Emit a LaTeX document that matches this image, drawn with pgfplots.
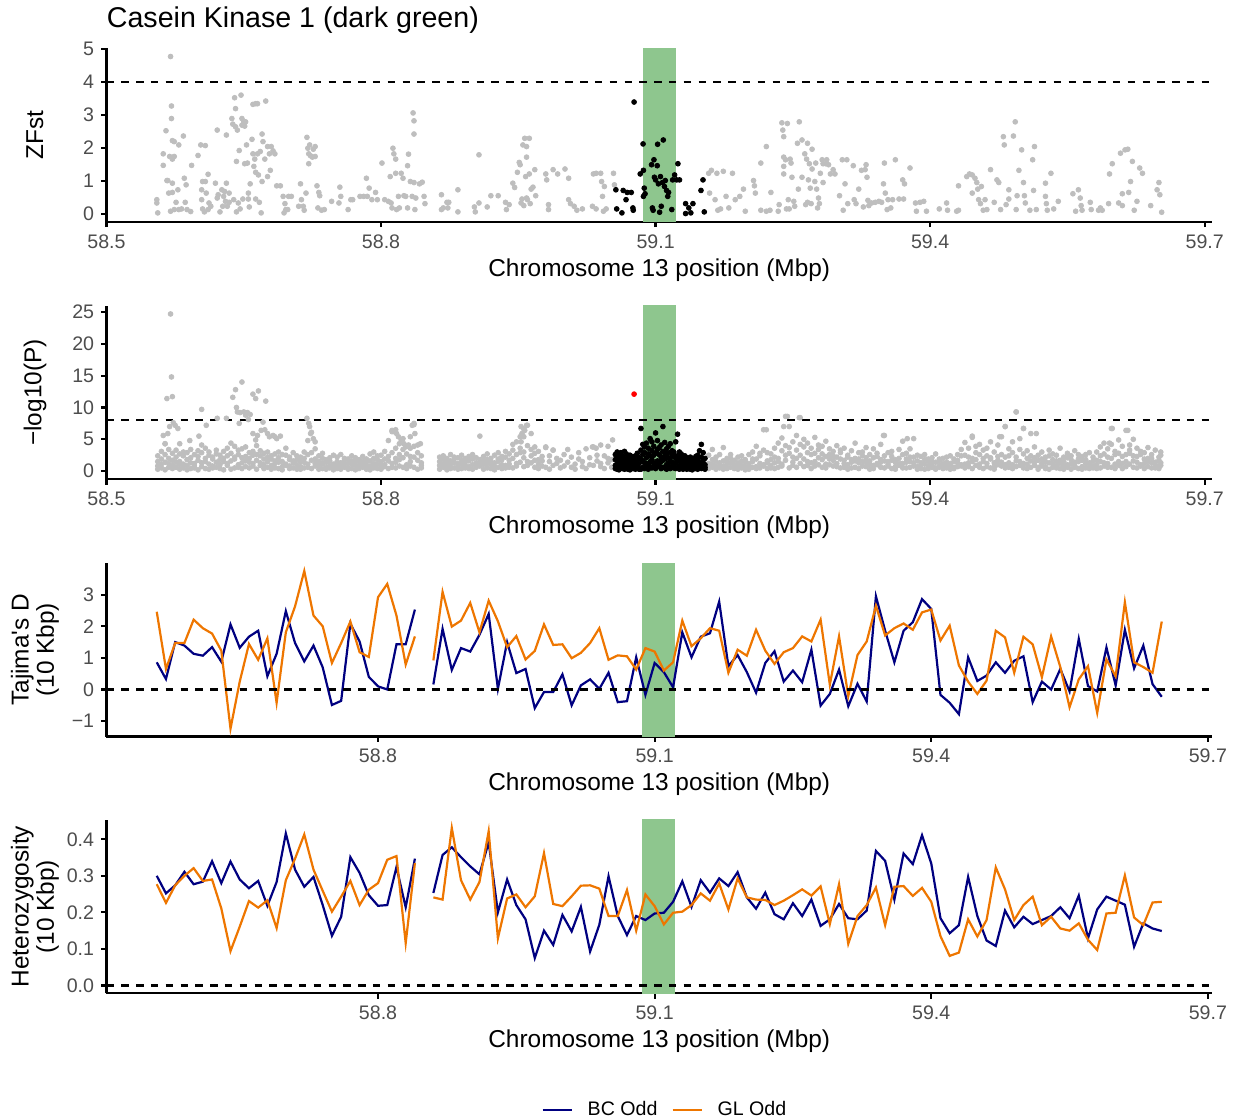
\documentclass[border=0pt]{standalone}
\usepackage{pgfplots}
\pgfplotsset{compat=1.18}
\usepackage{pgfplotstable}
\usepackage{fontspec}
\setmainfont{Liberation Sans}

\definecolor{tickgray}{HTML}{4D4D4D}
\definecolor{ptgray}{HTML}{BEBEBE}
\definecolor{bcnavy}{HTML}{000080}
\definecolor{glorange}{HTML}{EE7600}
\definecolor{ckgreen}{HTML}{8EC68E}

% ZFst per SNP, outside the candidate window
\pgfplotstableread{
x y
58.555 0.43
58.555 0.33
58.556 0.03
58.562 1.47
58.562 1.82
58.565 2.52
58.566 1.01
58.567 1.01
58.568 0.63
58.569 1.74
58.570 0.08
58.570 4.77
58.571 3.27
58.571 2.89
58.572 2.22
58.572 1.66
58.572 0.65
58.572 0.93
58.574 2.19
58.574 1.74
58.574 0.13
58.576 0.35
58.578 0.73
58.579 2.09
58.579 0.13
58.582 0.15
58.584 2.36
58.585 1.08
58.586 0.35
58.587 0.88
58.588 0.13
58.592 0.07
58.593 1.47
58.600 1.77
58.603 2.09
58.604 0.73
58.604 0.43
58.605 0.15
58.605 0.98
58.607 0.06
58.608 2.07
58.608 0.98
58.609 0.63
58.611 0.13
58.611 1.20
58.612 0.33
58.614 0.23
58.619 0.93
58.621 2.54
58.621 0.48
58.622 0.58
58.624 0.06
58.626 0.73
58.627 0.23
58.628 0.53
58.629 0.68
58.630 0.38
58.631 2.39
58.631 0.93
58.632 0.23
58.634 0.63
58.634 0.35
58.637 2.89
58.638 2.72
58.639 0.43
58.640 3.52
58.641 3.19
58.641 2.64
58.642 1.59
58.642 0.06
58.643 2.54
58.644 0.33
58.645 1.92
58.646 0.15
58.647 3.60
58.648 2.89
58.648 2.69
58.649 0.45
58.650 2.79
58.651 1.52
58.651 2.66
58.652 2.79
58.653 2.09
58.654 1.54
58.655 0.63
58.655 0.45
58.656 0.21
58.657 0.91
58.659 2.26
58.660 1.82
58.660 3.32
58.661 1.44
58.662 1.66
58.663 3.34
58.663 0.45
58.663 1.26
58.665 3.34
58.665 1.82
58.666 1.18
58.667 0.35
58.668 1.89
58.669 0.03
58.670 0.98
58.670 2.42
58.671 2.19
58.673 1.66
58.674 3.42
58.676 2.04
58.676 1.13
58.678 1.82
58.679 1.32
58.680 2.04
58.682 1.91
58.684 1.82
58.686 0.85
58.690 0.85
58.693 0.53
58.694 0.03
58.695 0.31
58.696 0.13
58.698 0.13
58.699 0.53
58.702 0.53
58.710 0.23
58.712 0.91
58.713 0.43
58.715 0.23
58.716 0.11
58.718 0.63
58.719 2.32
58.720 1.99
58.721 1.82
58.721 1.52
58.722 2.09
58.723 1.76
58.725 1.72
58.726 1.96
58.728 1.74
58.728 2.04
58.730 0.85
58.731 0.18
58.732 0.65
58.733 0.55
58.735 0.11
58.738 0.13
58.746 0.38
58.754 0.33
58.755 0.81
58.756 0.53
58.764 0.13
58.767 0.43
58.769 0.43
58.777 0.53
58.781 0.53
58.784 1.08
58.785 0.53
58.787 0.78
58.790 0.43
58.794 0.65
58.796 0.43
58.801 1.54
58.804 0.43
58.808 0.38
58.810 1.13
58.811 0.33
58.812 0.18
58.813 1.99
58.814 1.82
58.816 1.66
58.816 1.23
58.817 0.13
58.819 0.53
58.820 0.18
58.822 1.23
58.824 1.08
58.825 0.55
58.827 0.53
58.829 0.18
58.829 1.46
58.830 1.81
58.832 0.98
58.834 0.53
58.835 3.06
58.836 2.42
58.836 2.82
58.836 0.95
58.837 0.13
58.838 0.48
58.842 0.91
58.845 0.96
58.847 0.53
58.848 0.31
58.866 0.58
58.866 0.13
58.868 0.18
58.872 0.35
58.873 0.18
58.874 0.35
58.884 0.73
58.884 0.06
58.902 0.21
58.903 0.06
58.907 1.79
58.907 0.33
58.916 0.21
58.920 0.55
58.928 0.55
58.936 0.35
58.937 0.13
58.940 0.28
58.944 0.93
58.946 0.80
58.949 1.26
58.951 1.56
58.952 1.49
58.953 0.33
58.954 0.45
58.955 2.09
58.956 0.25
58.957 2.29
58.958 1.13
58.959 0.48
58.959 2.04
58.959 1.72
58.960 0.43
58.962 2.29
58.962 1.21
58.963 0.31
58.964 0.75
58.966 0.81
58.968 1.34
58.969 0.55
58.980 1.21
58.981 1.03
58.983 0.28
58.983 0.13
58.988 1.34
58.993 1.21
59.001 1.36
59.005 1.08
59.005 0.43
59.007 0.31
59.011 0.23
59.014 0.11
59.020 0.15
59.031 0.23
59.032 1.21
59.035 1.23
59.035 0.15
59.040 1.23
59.041 0.98
59.042 0.53
59.043 0.08
59.044 0.83
59.046 0.15
59.054 1.23
59.055 0.88
59.158 1.23
59.159 0.63
59.161 1.32
59.165 0.43
59.167 1.23
59.168 0.11
59.171 0.15
59.174 1.29
59.177 0.53
59.180 0.18
59.184 1.23
59.187 0.43
59.192 0.53
59.196 0.75
59.198 0.08
59.207 1.01
59.208 0.85
59.209 0.63
59.215 1.54
59.215 0.11
59.221 2.04
59.221 0.08
59.225 0.11
59.226 0.65
59.234 0.08
59.235 0.28
59.238 2.76
59.239 2.54
59.240 2.34
59.240 1.72
59.240 1.44
59.240 1.21
59.242 1.64
59.243 0.15
59.244 2.74
59.245 0.43
59.246 0.15
59.247 1.66
59.248 1.54
59.249 1.11
59.251 0.38
59.252 0.23
59.255 2.14
59.256 0.75
59.257 2.79
59.260 2.24
59.260 1.11
59.263 1.82
59.264 0.28
59.265 1.66
59.266 0.35
59.266 2.14
59.267 1.03
59.268 1.52
59.269 0.78
59.270 0.31
59.271 1.36
59.271 1.96
59.274 0.98
59.275 1.54
59.276 0.75
59.277 0.18
59.278 0.48
59.279 0.31
59.280 1.23
59.282 1.64
59.283 0.95
59.283 1.52
59.286 1.52
59.287 1.64
59.289 1.49
59.291 1.21
59.294 1.34
59.296 1.21
59.301 0.55
59.304 1.64
59.305 0.11
59.307 0.91
59.309 1.64
59.310 0.31
59.316 1.46
59.317 0.43
59.319 0.31
59.322 0.75
59.325 1.32
59.327 0.21
59.329 1.34
59.330 1.49
59.331 1.11
59.332 0.41
59.333 0.25
59.336 0.33
59.340 0.35
59.344 0.38
59.347 0.35
59.349 0.91
59.350 1.54
59.351 0.63
59.353 0.13
59.354 0.43
59.357 0.18
59.359 0.43
59.362 1.64
59.366 0.45
59.370 1.03
59.371 0.45
59.372 0.91
59.378 1.39
59.384 0.33
59.385 0.08
59.389 0.35
59.393 0.38
59.396 0.08
59.410 0.15
59.418 0.33
59.419 0.11
59.429 0.08
59.431 0.11
59.431 0.85
59.440 1.13
59.443 1.21
59.446 1.18
59.446 0.63
59.449 1.08
59.451 0.95
59.452 0.75
59.453 0.43
59.455 0.31
59.456 0.83
59.458 0.11
59.460 0.43
59.462 0.13
59.466 1.34
59.470 0.35
59.473 1.03
59.475 0.95
59.477 0.13
59.480 2.34
59.481 2.09
59.483 0.28
59.486 0.45
59.486 0.73
59.491 2.36
59.493 2.79
59.494 0.13
59.495 0.55
59.497 1.32
59.500 1.94
59.502 0.95
59.503 0.55
59.504 0.33
59.509 0.11
59.512 1.64
59.513 0.71
59.514 2.04
59.516 0.13
59.526 0.93
59.526 0.53
59.527 0.31
59.528 0.11
59.532 1.23
59.535 0.15
59.540 0.38
59.556 0.61
59.559 0.08
59.562 0.73
59.564 0.48
59.565 0.25
59.566 0.11
59.575 0.35
59.576 0.13
59.584 0.11
59.586 0.18
59.588 0.11
59.595 0.31
59.596 1.21
59.599 1.52
59.606 0.33
59.608 1.84
59.610 0.61
59.610 0.25
59.613 1.94
59.616 1.96
59.617 0.65
59.619 0.98
59.621 1.59
59.623 0.11
59.626 0.38
59.629 1.39
59.632 1.23
59.641 0.25
59.648 0.73
59.650 0.95
59.651 0.58
59.653 0.05
}\zfstgray

% ZFst per SNP, inside the candidate window
\pgfplotstableread{
x y
59.0566 0.73
59.0575 0.15
59.0632 0.03
59.0646 0.71
59.0677 0.43
59.0690 0.65
59.0734 0.65
59.0752 0.18
59.0756 0.11
59.0765 3.39
59.0832 1.21
59.0863 2.12
59.0867 1.32
59.0867 0.53
59.0876 0.78
59.0885 0.61
59.0956 1.49
59.0965 0.18
59.0973 0.11
59.0982 1.64
59.0987 1.11
59.1000 1.03
59.1018 1.46
59.1022 2.11
59.1031 0.91
59.1044 0.05
59.1053 1.13
59.1062 0.23
59.1075 0.95
59.1084 2.24
59.1097 0.83
59.1106 1.01
59.1120 0.71
59.1133 0.53
59.1142 0.65
59.1177 0.13
59.1186 1.03
59.1208 1.18
59.1230 1.03
59.1244 1.52
59.1261 1.03
59.1328 0.31
59.1328 0.01
59.1363 0.18
59.1385 0.03
59.1408 0.31
59.1496 0.71
59.1518 1.03
59.1532 0.06
}\zfstblack

% -log10(P), background SNPs (four SNPs per 4 kb bin)
\pgfplotstableread{
x a b c d
58.556 0.8 2.4 1.5 0.3
58.560 1.9 0.5 3.1 1.1
58.564 0.2 1.4 2.6 4.3
58.568 1.2 3.4 0.6 2.0
58.572 2.8 0.9 1.7 0.4
58.576 0.6 2.2 3.3 1.4
58.580 1.5 0.3 2.7 1.0
58.584 2.4 1.1 0.5 3.0
58.588 0.9 1.8 2.9 0.2
58.592 1.3 0.4 2.1 3.4
58.596 0.5 2.6 1.2 0.8
58.600 1.7 0.2 3.2 2.3
58.604 2.9 1.3 0.7 4.1
58.608 0.4 2.0 1.5 3.6
58.612 1.1 3.0 0.3 2.5
58.616 2.2 0.8 1.9 0.5
58.620 0.6 3.3 1.4 2.7
58.624 1.8 0.4 2.5 1.0
58.628 3.1 1.5 0.2 2.0
58.632 0.9 2.4 3.6 1.2
58.636 1.6 0.3 2.8 4.4
58.640 0.5 1.9 3.9 2.2
58.644 2.6 1.0 0.6 3.3
58.648 1.3 3.5 2.1 0.4
58.652 0.7 2.3 1.6 3.8
58.656 2.0 0.5 2.9 1.4
58.660 1.2 3.1 0.8 2.5
58.664 0.3 1.7 2.6 4.0
58.668 2.4 0.9 1.3 3.2
58.672 1.0 2.8 0.4 1.9
58.676 0.6 1.5 3.0 2.2
58.680 1.9 0.3 2.4 0.9
58.684 2.7 1.2 0.5 1.6
58.688 0.4 2.1 1.4 3.0
58.692 1.5 0.7 2.6 0.2
58.696 0.9 2.5 1.1 3.6
58.700 2.2 0.4 1.8 0.8
58.704 0.5 1.6 2.9 1.3
58.708 1.8 0.3 1.0 2.4
58.712 0.7 2.2 1.5 0.3
58.716 1.4 0.5 3.0 2.0
58.720 2.6 1.1 4.8 0.6
58.724 0.4 2.9 1.7 6.1
58.728 1.9 0.8 3.5 1.2
58.732 0.3 1.5 2.4 0.9
58.736 1.2 0.4 2.0 2.8
58.740 0.6 1.8 0.3 1.4
58.744 2.1 0.9 1.6 0.5
58.748 0.8 2.5 1.1 0.2
58.752 1.5 0.4 2.2 1.0
58.756 0.3 1.3 0.7 2.6
58.760 1.7 0.6 2.0 1.1
58.764 0.5 1.9 1.2 0.3
58.768 1.1 0.4 2.4 1.6
58.772 0.2 1.5 0.9 2.1
58.776 1.4 0.7 1.8 0.4
58.780 0.6 2.3 1.0 1.5
58.784 1.9 0.3 1.4 0.8
58.788 0.8 1.6 2.7 0.2
58.792 1.2 0.5 2.0 3.0
58.796 0.4 1.8 1.1 2.4
58.800 2.5 0.9 1.5 0.3
58.804 0.7 3.1 1.9 1.0
58.808 1.6 0.4 4.8 2.3
58.812 2.9 1.2 0.6 6.2
58.816 0.5 2.0 3.6 1.4
58.820 1.8 4.3 0.8 2.6
58.824 3.4 0.6 2.1 5.1
58.828 1.0 2.7 4.0 0.4
58.832 2.3 0.8 1.5 3.6
58.836 0.6 3.9 2.2 7.3
58.840 1.7 0.3 2.9 4.1
58.844 0.9 2.4 1.3 0.5
58.864 1.5 0.3 2.2 0.9
58.868 0.6 1.8 1.1 2.4
58.872 2.0 0.8 1.4 0.2
58.876 0.4 1.6 2.6 1.0
58.880 1.3 0.5 1.9 2.2
58.884 0.8 2.1 1.2 0.3
58.888 1.7 0.4 2.5 1.1
58.892 0.5 1.4 0.9 2.0
58.896 2.3 0.7 1.6 0.4
58.900 1.0 1.9 0.3 2.6
58.904 0.6 1.3 2.1 0.9
58.908 1.8 5.5 0.8 1.4
58.912 0.3 1.6 2.3 1.0
58.916 1.2 0.5 1.8 2.7
58.920 2.0 1.1 0.4 1.5
58.924 0.7 2.5 1.3 0.2
58.928 1.5 0.6 2.9 1.9
58.932 0.4 1.8 1.0 2.3
58.936 2.2 0.9 3.1 0.5
58.940 1.1 2.7 0.6 1.7
58.944 0.5 3.3 2.0 4.2
58.948 2.6 1.2 4.6 0.8
58.952 1.4 5.4 2.9 3.6
58.956 3.0 0.7 6.6 2.1
58.960 0.9 4.0 7.2 1.5
58.964 2.4 1.3 3.4 5.9
58.968 0.6 2.8 1.7 3.8
58.972 1.8 0.4 3.1 1.1
58.976 0.8 2.3 nan 1.6
58.980 nan 3.7 0.6 nan
58.984 1.5 nan 2.4 0.3
58.988 nan 0.9 nan 3.3
58.992 1.2 nan 2.0 nan
58.996 nan 0.5 nan 1.7
59.000 2.6 nan 0.8 nan
59.004 nan 1.4 nan 3.4
59.008 0.6 nan 2.2 nan
59.012 nan 1.1 nan 0.3
59.016 1.9 nan 2.9 nan
59.020 nan 0.7 nan 1.5
59.024 3.5 nan 0.4 nan
59.028 nan 2.1 nan 1.0
59.032 0.9 nan 3.8 nan
59.036 nan 1.6 nan 2.5
59.040 4.1 nan 0.7 1.2
59.044 nan 2.4 nan 0.4
59.048 1.3 3.9 nan 2.0
59.052 0.6 nan 1.8 nan
59.158 1.2 0.4 2.5 0.9
59.162 0.6 1.8 1.1 3.4
59.166 2.2 0.3 1.5 0.7
59.170 0.9 2.6 0.5 1.3
59.174 1.6 0.8 3.7 0.3
59.178 0.4 1.4 2.0 1.1
59.182 2.0 0.6 1.3 2.6
59.186 0.8 1.7 0.4 1.0
59.190 1.3 0.3 2.2 0.6
59.194 0.5 2.4 0.9 1.6
59.198 1.8 0.7 1.4 0.2
59.202 0.3 1.2 2.6 0.9
59.206 1.5 3.0 0.6 1.9
59.210 0.7 1.9 3.9 0.4
59.214 2.4 0.5 1.2 2.8
59.218 1.0 3.3 0.8 6.5
59.222 0.4 1.6 2.9 1.3
59.226 2.7 0.9 1.8 0.5
59.230 1.3 3.6 0.4 2.2
59.234 0.6 2.0 4.4 1.5
59.238 3.2 1.1 5.2 0.8
59.242 1.7 4.0 2.5 8.6
59.246 0.5 2.8 7.0 3.7
59.250 4.6 1.4 2.2 0.9
59.254 2.0 5.6 0.6 3.3
59.258 1.2 2.5 8.4 4.2
59.262 3.8 0.7 1.9 5.0
59.266 0.9 4.4 2.9 1.5
59.270 2.6 1.3 3.6 0.4
59.274 1.5 5.3 0.8 2.8
59.278 3.4 2.1 4.1 1.0
59.282 0.6 1.8 2.7 3.9
59.286 2.3 4.7 1.1 0.5
59.290 1.0 2.6 3.5 1.9
59.294 3.1 0.8 1.7 2.4
59.298 0.7 2.2 4.0 1.2
59.302 1.9 0.5 2.9 3.3
59.306 1.2 3.6 0.6 1.7
59.310 2.5 1.0 2.2 0.3
59.314 0.5 1.8 3.2 1.4
59.318 1.6 0.6 2.0 4.4
59.322 2.9 1.3 0.4 1.9
59.326 0.8 2.4 1.5 3.0
59.330 1.4 3.7 0.7 2.1
59.334 0.3 1.6 2.6 1.0
59.338 2.1 0.9 3.5 0.4
59.342 1.0 2.3 1.2 2.8
59.346 0.6 1.4 4.2 1.8
59.350 2.4 0.5 1.6 5.6
59.354 1.1 2.9 0.8 1.5
59.358 0.4 1.7 2.3 3.1
59.362 1.8 0.7 1.4 0.3
59.366 0.9 3.4 2.0 1.2
59.370 2.6 1.2 0.5 4.7
59.374 0.5 1.9 2.8 1.4
59.378 1.5 0.6 3.5 2.2
59.382 2.2 1.3 0.8 5.1
59.386 0.7 2.5 1.6 0.3
59.390 1.3 0.4 2.3 1.0
59.394 0.3 1.8 1.1 2.6
59.398 1.9 0.8 0.4 1.5
59.402 0.6 2.1 1.4 0.9
59.406 1.4 0.5 2.7 0.3
59.410 0.9 1.6 0.6 1.9
59.414 2.0 0.4 1.2 0.8
59.418 0.5 1.4 2.2 1.1
59.422 1.2 0.3 0.9 2.4
59.426 0.4 1.9 1.5 0.6
59.430 1.7 0.7 2.6 1.3
59.434 0.8 2.4 1.0 3.4
59.438 2.5 1.1 4.5 0.5
59.442 1.3 3.6 0.7 2.2
59.446 0.4 2.0 5.3 1.5
59.450 2.9 0.9 1.8 3.9
59.454 1.1 4.2 2.6 0.6
59.458 3.3 1.5 0.4 2.0
59.462 0.7 2.4 3.6 1.2
59.466 1.9 0.5 2.1 4.6
59.470 0.6 3.0 1.3 0.3
59.474 2.3 1.0 4.1 1.7
59.478 1.4 5.4 0.8 2.6
59.482 0.5 2.2 7.0 1.0
59.486 3.5 1.3 0.6 2.4
59.490 1.0 4.6 2.9 0.4
59.494 2.2 0.7 9.3 1.6
59.498 0.9 3.4 1.5 5.1
59.502 2.7 1.2 0.5 6.7
59.506 0.4 2.0 3.2 1.1
59.510 1.6 0.6 2.4 5.9
59.514 3.8 1.4 0.9 2.1
59.518 0.6 2.5 1.7 0.3
59.522 1.9 0.8 3.0 1.2
59.526 0.4 1.5 2.2 0.7
59.530 2.4 0.3 1.3 3.3
59.534 1.1 2.7 0.6 1.8
59.538 0.5 1.6 2.5 0.9
59.542 1.7 0.4 1.2 3.6
59.546 0.8 2.2 0.3 1.5
59.550 2.1 1.0 2.8 0.6
59.554 0.3 1.8 1.1 2.4
59.558 1.4 0.6 3.2 0.9
59.562 2.6 1.5 0.4 1.9
59.566 0.7 2.3 1.7 0.3
59.570 1.8 0.5 2.6 1.2
59.574 0.4 1.3 0.8 2.9
59.578 2.2 0.9 1.6 0.5
59.582 1.0 3.0 0.4 1.7
59.586 0.5 1.5 2.4 3.8
59.590 2.7 0.8 4.4 1.3
59.594 1.2 3.5 0.6 2.2
59.598 0.6 2.0 6.7 4.2
59.602 3.1 1.1 2.6 0.4
59.606 1.5 4.9 0.9 2.8
59.610 0.4 2.3 3.9 1.2
59.614 2.6 6.4 1.5 0.7
59.618 1.1 2.8 4.1 3.3
59.622 0.6 1.6 2.4 5.0
59.626 2.3 0.5 3.6 1.4
59.630 1.0 3.1 0.8 2.6
59.634 0.4 1.9 2.9 1.2
59.638 2.0 0.7 1.5 3.7
59.642 1.3 2.6 0.5 2.0
59.646 0.5 1.4 3.3 1.0
59.650 1.7 0.8 2.2 0.4
59.652 0.9 3.0 1.3 2.5
}\logpgray

% -log10(P), the stronger background SNPs
\pgfplotstableread{
x y
58.570 24.7
58.571 14.8
58.566 11.4
58.572 11.7
58.562 5.6
58.564 4.3
58.567 5.9
58.569 7.0
58.573 7.6
58.575 7.2
58.578 6.7
58.580 4.3
58.591 4.8
58.601 5.5
58.604 9.7
58.609 7.2
58.621 8.3
58.631 8.3
58.638 11.6
58.641 12.8
58.642 10.0
58.643 9.3
58.645 7.5
58.646 9.2
58.648 14.0
58.650 9.3
58.652 8.8
58.654 9.2
58.655 8.1
58.657 8.9
58.660 12.1
58.663 11.4
58.666 12.6
58.674 11.0
58.660 5.9
58.663 4.9
58.665 5.6
58.669 6.4
58.671 7.7
58.673 6.5
58.676 5.9
58.678 5.4
58.682 5.6
58.684 5.4
58.686 5.1
58.690 5.5
58.719 8.3
58.721 7.5
58.722 7.0
58.723 5.9
58.726 5.1
58.728 4.6
58.812 6.4
58.814 6.2
58.816 6.5
58.817 5.9
58.819 5.4
58.822 4.9
58.825 4.3
58.834 7.2
58.836 7.5
58.837 5.9
58.832 5.4
58.830 4.1
58.827 3.8
58.843 4.3
58.953 7.0
58.957 6.4
58.959 7.2
58.956 5.4
58.954 5.9
58.953 4.6
58.980 3.8
58.988 3.3
59.031 3.8
59.035 3.6
59.053 4.9
59.244 8.6
59.257 8.4
59.221 6.5
59.240 7.0
59.494 9.3
59.482 7.0
59.599 6.7
59.616 6.4
59.596 4.4
59.349 5.6
59.375 5.1
59.446 5.5
59.476 5.4
59.502 6.7
59.516 5.9
}\logphigh

% -log10(P), SNPs inside the candidate window
\pgfplotstableread{
x a b c d
59.056 0.4 1.8 2.6 0.9
59.058 1.2 0.3 3.0 2.1
59.060 2.4 0.7 1.5 0.2
59.062 0.5 2.9 1.1 1.7
59.064 1.9 0.4 2.3 0.8
59.066 0.3 1.4 2.0 3.1
59.068 2.7 0.6 1.2 0.4
59.070 1.0 2.2 0.3 1.6
59.072 0.6 1.5 2.5 0.2
59.074 1.8 0.9 0.4 2.3
59.076 0.4 2.0 1.3 0.7
59.078 1.5 0.3 2.4 1.1
59.080 0.8 1.7 0.5 2.8
59.082 2.1 0.4 1.2 0.3
59.084 0.3 3.3 1.9 6.7
59.086 1.6 0.6 4.2 2.6
59.088 2.9 1.3 0.4 3.8
59.090 0.7 4.4 2.1 1.2
59.092 3.6 0.9 2.7 0.3
59.094 1.4 2.4 5.1 0.6
59.096 0.5 3.2 1.8 4.6
59.098 2.5 0.8 3.9 1.3
59.100 1.1 6.0 0.4 2.8
59.102 3.4 1.6 4.8 0.7
59.104 0.9 2.6 1.4 3.7
59.106 4.1 0.4 2.2 1.5
59.108 1.7 7.0 3.1 0.6
59.110 0.5 2.4 4.5 1.9
59.112 2.8 1.0 0.3 3.5
59.114 1.3 3.9 2.1 0.8
59.116 0.4 1.6 2.9 4.3
59.118 3.2 0.7 1.4 2.3
59.120 1.1 2.6 0.5 3.0
59.122 2.0 4.6 1.3 0.4
59.124 0.6 5.8 2.4 1.6
59.126 3.0 0.9 1.8 0.3
59.128 1.4 2.3 0.6 2.7
59.130 0.3 1.5 2.0 0.8
59.132 1.8 0.5 1.1 2.4
59.134 0.7 2.1 0.3 1.4
59.136 1.2 0.4 1.9 0.6
59.138 0.3 1.6 0.9 2.2
59.140 2.0 0.7 1.3 0.2
59.142 0.9 1.4 0.4 1.8
59.144 0.4 2.3 1.0 0.6
59.146 1.5 0.3 1.9 2.5
59.148 0.6 1.1 0.5 3.2
59.150 2.2 4.2 1.4 0.4
59.152 0.8 1.7 2.9 1.2
59.154 0.3 1.0 0.6 2.0
}\logpblack

% Tajima's D in 10 kb windows (nan row splits the two contigs)
\pgfplotstableread{
x bc gl
58.56 0.86 2.46
58.57 0.33 0.65
58.58 1.50 1.47
58.59 1.39 1.47
58.60 1.13 2.21
58.61 1.07 1.94
58.62 1.34 1.77
58.63 0.88 1.23
58.64 2.06 -1.24
58.65 1.32 0.25
58.66 1.67 1.44
58.67 1.86 0.94
58.68 0.42 1.62
58.69 1.13 -0.42
58.70 2.48 1.81
58.71 1.47 2.63
58.72 0.89 3.75
58.73 1.39 2.34
58.74 0.70 2.00
58.75 -0.49 0.84
58.76 -0.36 1.47
58.77 2.08 2.15
58.78 1.52 1.18
58.79 0.40 1.03
58.80 0.10 2.92
58.81 0.00 3.34
58.82 1.43 2.34
58.83 1.43 0.79
58.84 2.53 1.68
58.85 nan nan
58.86 0.16 0.92
58.87 1.92 3.09
58.88 0.62 1.99
58.89 1.31 2.18
58.90 1.20 2.74
58.91 1.73 1.81
58.92 2.39 2.81
58.93 0.02 2.16
58.94 1.50 1.34
58.95 0.52 1.69
58.96 0.65 0.95
58.97 -0.59 1.22
58.98 -0.08 2.06
58.99 -0.08 1.41
59.00 0.48 1.43
59.01 -0.50 0.99
59.02 0.13 1.16
59.03 0.32 1.47
59.04 0.02 1.94
59.05 0.53 0.94
59.06 -0.40 1.08
59.07 -0.37 1.05
59.08 1.02 0.63
59.09 -0.17 1.31
59.10 0.84 1.20
59.11 0.55 0.60
59.12 0.07 0.86
59.13 1.81 2.18
59.14 1.02 1.37
59.15 1.67 1.62
59.16 1.78 1.94
59.17 2.78 1.86
59.18 0.74 0.53
59.19 1.09 1.26
59.20 0.55 1.07
59.21 -0.10 1.89
59.22 0.84 1.23
59.23 1.21 0.81
59.24 0.25 1.18
59.25 0.60 1.31
59.26 0.23 1.68
59.27 1.26 1.52
59.28 -0.51 2.21
59.29 -0.14 0.15
59.30 0.63 1.68
59.31 -0.53 -0.21
59.32 0.18 1.09
59.33 -0.38 1.52
59.34 2.95 2.65
59.35 1.86 1.71
59.36 0.86 1.94
59.37 1.86 2.09
59.38 2.13 1.89
59.39 2.86 2.44
59.40 2.55 2.53
59.41 -0.17 1.55
59.42 -0.42 2.02
59.43 -0.78 0.76
59.44 1.02 0.25
59.45 0.27 -0.14
59.46 0.44 0.28
59.47 0.86 1.86
59.48 0.53 1.65
59.49 0.91 0.53
59.50 1.05 1.67
59.51 -0.40 1.43
59.52 0.25 0.39
59.53 0.00 1.68
59.54 0.65 0.71
59.55 -0.06 -0.56
59.56 1.60 0.32
59.57 0.11 0.74
59.58 -0.06 -0.74
59.59 1.33 0.95
59.60 0.13 0.42
59.61 1.89 2.76
59.62 0.67 0.86
59.63 1.39 0.71
59.64 0.17 0.53
59.65 -0.23 2.15
}\tajima

% Heterozygosity in 10 kb windows
\pgfplotstableread{
x bc gl
58.56 0.300 0.277
58.57 0.252 0.226
58.58 0.274 0.274
58.59 0.311 0.300
58.60 0.277 0.321
58.61 0.284 0.286
58.62 0.340 0.290
58.63 0.280 0.211
58.64 0.339 0.094
58.65 0.290 0.161
58.66 0.266 0.231
58.67 0.286 0.213
58.68 0.218 0.233
58.69 0.283 0.157
58.70 0.416 0.288
58.71 0.317 0.347
58.72 0.270 0.413
58.73 0.297 0.317
58.74 0.220 0.259
58.75 0.136 0.202
58.76 0.188 0.243
58.77 0.351 0.286
58.78 0.308 0.220
58.79 0.247 0.262
58.80 0.218 0.280
58.81 0.220 0.344
58.82 0.324 0.354
58.83 0.214 0.116
58.84 0.347 0.335
58.85 nan nan
58.86 0.253 0.241
58.87 0.357 0.235
58.88 0.378 0.431
58.89 0.351 0.288
58.90 0.326 0.235
58.91 0.304 0.283
58.92 0.392 0.422
58.93 0.200 0.129
58.94 0.290 0.238
58.95 0.220 0.249
58.96 0.181 0.214
58.97 0.075 0.244
58.98 0.150 0.362
58.99 0.111 0.223
59.00 0.193 0.217
59.01 0.148 0.244
59.02 0.215 0.273
59.03 0.093 0.274
59.04 0.166 0.265
59.05 0.299 0.190
59.06 0.190 0.190
59.07 0.138 0.261
59.08 0.190 0.150
59.09 0.179 0.249
59.10 0.197 0.217
59.11 0.199 0.167
59.12 0.229 0.199
59.13 0.285 0.202
59.14 0.215 0.220
59.15 0.288 0.252
59.16 0.254 0.232
59.17 0.293 0.279
59.18 0.272 0.208
59.19 0.310 0.293
59.20 0.241 0.241
59.21 0.210 0.235
59.22 0.254 0.234
59.23 0.195 0.220
59.24 0.181 0.232
59.25 0.225 0.247
59.26 0.190 0.263
59.27 0.235 0.246
59.28 0.163 0.271
59.29 0.181 0.168
59.30 0.223 0.277
59.31 0.184 0.114
59.32 0.181 0.190
59.33 0.205 0.220
59.34 0.368 0.268
59.35 0.341 0.165
59.36 0.235 0.270
59.37 0.361 0.272
59.38 0.332 0.245
59.39 0.411 0.267
59.40 0.334 0.229
59.41 0.184 0.135
59.42 0.143 0.081
59.43 0.165 0.090
59.44 0.297 0.181
59.45 0.190 0.134
59.46 0.123 0.179
59.47 0.108 0.323
59.48 0.205 0.263
59.49 0.159 0.179
59.50 0.188 0.220
59.51 0.168 0.243
59.52 0.179 0.165
59.53 0.190 0.188
59.54 0.214 0.156
59.55 0.184 0.150
59.56 0.246 0.170
59.57 0.129 0.125
59.58 0.208 0.097
59.59 0.243 0.197
59.60 0.232 0.199
59.61 0.221 0.301
59.62 0.106 0.186
59.63 0.170 0.165
59.64 0.156 0.227
59.65 0.149 0.229
}\hetero

\pgfplotsset{
  panel/.style={
    scale only axis, width=552.75pt, height=86.75pt,
    axis x line*=bottom, axis y line*=left,
    axis line style={line width=1.1pt, black},
    tick style={black, line width=1.1pt},
    tick align=outside, major tick length=2.7pt,
    /pgf/number format/assume math mode=true,
    ticklabel style={font=\fontsize{9.8}{11}\selectfont, text=tickgray},
    xticklabel style={anchor=north, inner sep=0pt, yshift=-3.4pt},
    yticklabel style={anchor=east, inner sep=0pt, xshift=-3.3pt},
    every axis x label/.style={at={(axis description cs:0.5,0)}, anchor=center,
      yshift=-24pt, font=\fontsize{12.2}{13}\selectfont},
    every axis y label/.style={at={(axis description cs:-0.0647,0.5)}, rotate=90,
      anchor=center, align=center, font=\fontsize{12.2}{12.6}\selectfont},
    xlabel={Chromosome 13 position (Mbp)},
    unbounded coords=jump,
  },
  snpaxis/.style={panel, xmin=58.5, xmax=59.708,
    xtick={58.5,58.8,59.1,59.4,59.7},
    xticklabels={58.5,58.8,59.1,59.4,59.7}},
  winaxis/.style={panel, xmin=58.5055, xmax=59.7045,
    xtick={58.8,59.1,59.4,59.7},
    xticklabels={58.8,59.1,59.4,59.7}},
  thresh/.style={black, line width=1.1pt, dash pattern=on 3.7pt off 3.7pt, forget plot},
  graypt/.style={only marks, mark=*, mark size=1.2pt, color=ptgray, forget plot},
  blackpt/.style={only marks, mark=*, mark size=1.2pt, color=black, forget plot},
  window/.style={fill=ckgreen, draw=none, forget plot},
}

\begin{document}
\begin{tikzpicture}
\useasboundingbox (0,0) rectangle (618.5pt,559pt);

% ZFst
\begin{axis}[snpaxis, at={(53.25pt,448.1pt)}, anchor=south west,
  ymin=-0.24, ymax=5.02, ytick={0,1,2,3,4,5}, yticklabels={0,1,2,3,4,5},
  ylabel={ZFst},
  title={Casein Kinase 1 (dark green)},
  title style={at={(axis description cs:0,1)}, anchor=west, inner sep=0pt,
    yshift=8.2pt, font=\fontsize{14.3}{15}\selectfont}]
\addplot[window] coordinates {(59.086,-1) (59.122,-1) (59.122,6) (59.086,6)} -- cycle;
\addplot[thresh] coordinates {(58.5,4) (59.708,4)};
\addplot[graypt] table[x=x,y=y]{\zfstgray};
\addplot[blackpt] table[x=x,y=y]{\zfstblack};
\end{axis}

% -log10(P)
\begin{axis}[snpaxis, at={(53.25pt,319.4pt)}, anchor=south west,
  ymin=-1.27, ymax=26.0, ytick={0,5,10,15,20,25}, yticklabels={0,5,10,15,20,25},
  ylabel={−log10(P)}]
\addplot[window] coordinates {(59.086,-5) (59.122,-5) (59.122,30) (59.086,30)} -- cycle;
\addplot[thresh] coordinates {(58.5,8) (59.708,8)};
\addplot[graypt] table[x=x,y=a]{\logpgray};
\addplot[graypt] table[x=x,y=b]{\logpgray};
\addplot[graypt] table[x=x,y=c]{\logpgray};
\addplot[graypt] table[x=x,y=d]{\logpgray};
\addplot[graypt] table[x=x,y=y]{\logphigh};
\addplot[blackpt] table[x=x,y=a]{\logpblack};
\addplot[blackpt] table[x=x,y=b]{\logpblack};
\addplot[blackpt] table[x=x,y=c]{\logpblack};
\addplot[blackpt] table[x=x,y=d]{\logpblack};
\addplot[only marks, mark=*, mark size=1.2pt, color=red, forget plot] coordinates {(59.0765,12.1)};
\end{axis}

% Tajima's D
\begin{axis}[winaxis, at={(53.25pt,190.7pt)}, anchor=south west,
  ymin=-1.49, ymax=4.0, ytick={-1,0,1,2,3}, yticklabels={−1,0,1,2,3},
  ylabel={Tajima\textquotesingle s D\\(10 Kbp)}]
\addplot[window] coordinates {(59.086,-5) (59.122,-5) (59.122,5) (59.086,5)} -- cycle;
\addplot[bcnavy, line width=1.1pt, forget plot] table[x=x,y=bc]{\tajima};
\addplot[glorange, line width=1.1pt, forget plot] table[x=x,y=gl]{\tajima};
\addplot[thresh] coordinates {(58.5055,0) (59.7045,0)};
\end{axis}

% Heterozygosity
\begin{axis}[winaxis, at={(53.25pt,62.3pt)}, anchor=south west,
  ymin=-0.0216, ymax=0.453, ytick={0,0.1,0.2,0.3,0.4},
  yticklabels={0.0,0.1,0.2,0.3,0.4},
  ylabel={Heterozygosity\\(10 Kbp)},
  legend columns=2,
  legend image code/.code={\draw[#1] (0pt,0pt) -- (14.5pt,0pt);},
  legend style={draw=none, fill=none, at={(axis description cs:0.506,-0.674)},
    anchor=center, font=\fontsize{9.8}{11}\selectfont,
    /tikz/every odd column/.append style={column sep=5.5pt},
    /tikz/every even column/.append style={column sep=5pt}}]
\addplot[window] coordinates {(59.086,-1) (59.122,-1) (59.122,1) (59.086,1)} -- cycle;
\addplot[bcnavy, line width=1.1pt] table[x=x,y=bc]{\hetero};
\addlegendentry{BC Odd}
\addplot[glorange, line width=1.1pt] table[x=x,y=gl]{\hetero};
\addlegendentry{GL Odd}
\addplot[thresh] coordinates {(58.5055,0) (59.7045,0)};
\end{axis}
\end{tikzpicture}
\end{document}
